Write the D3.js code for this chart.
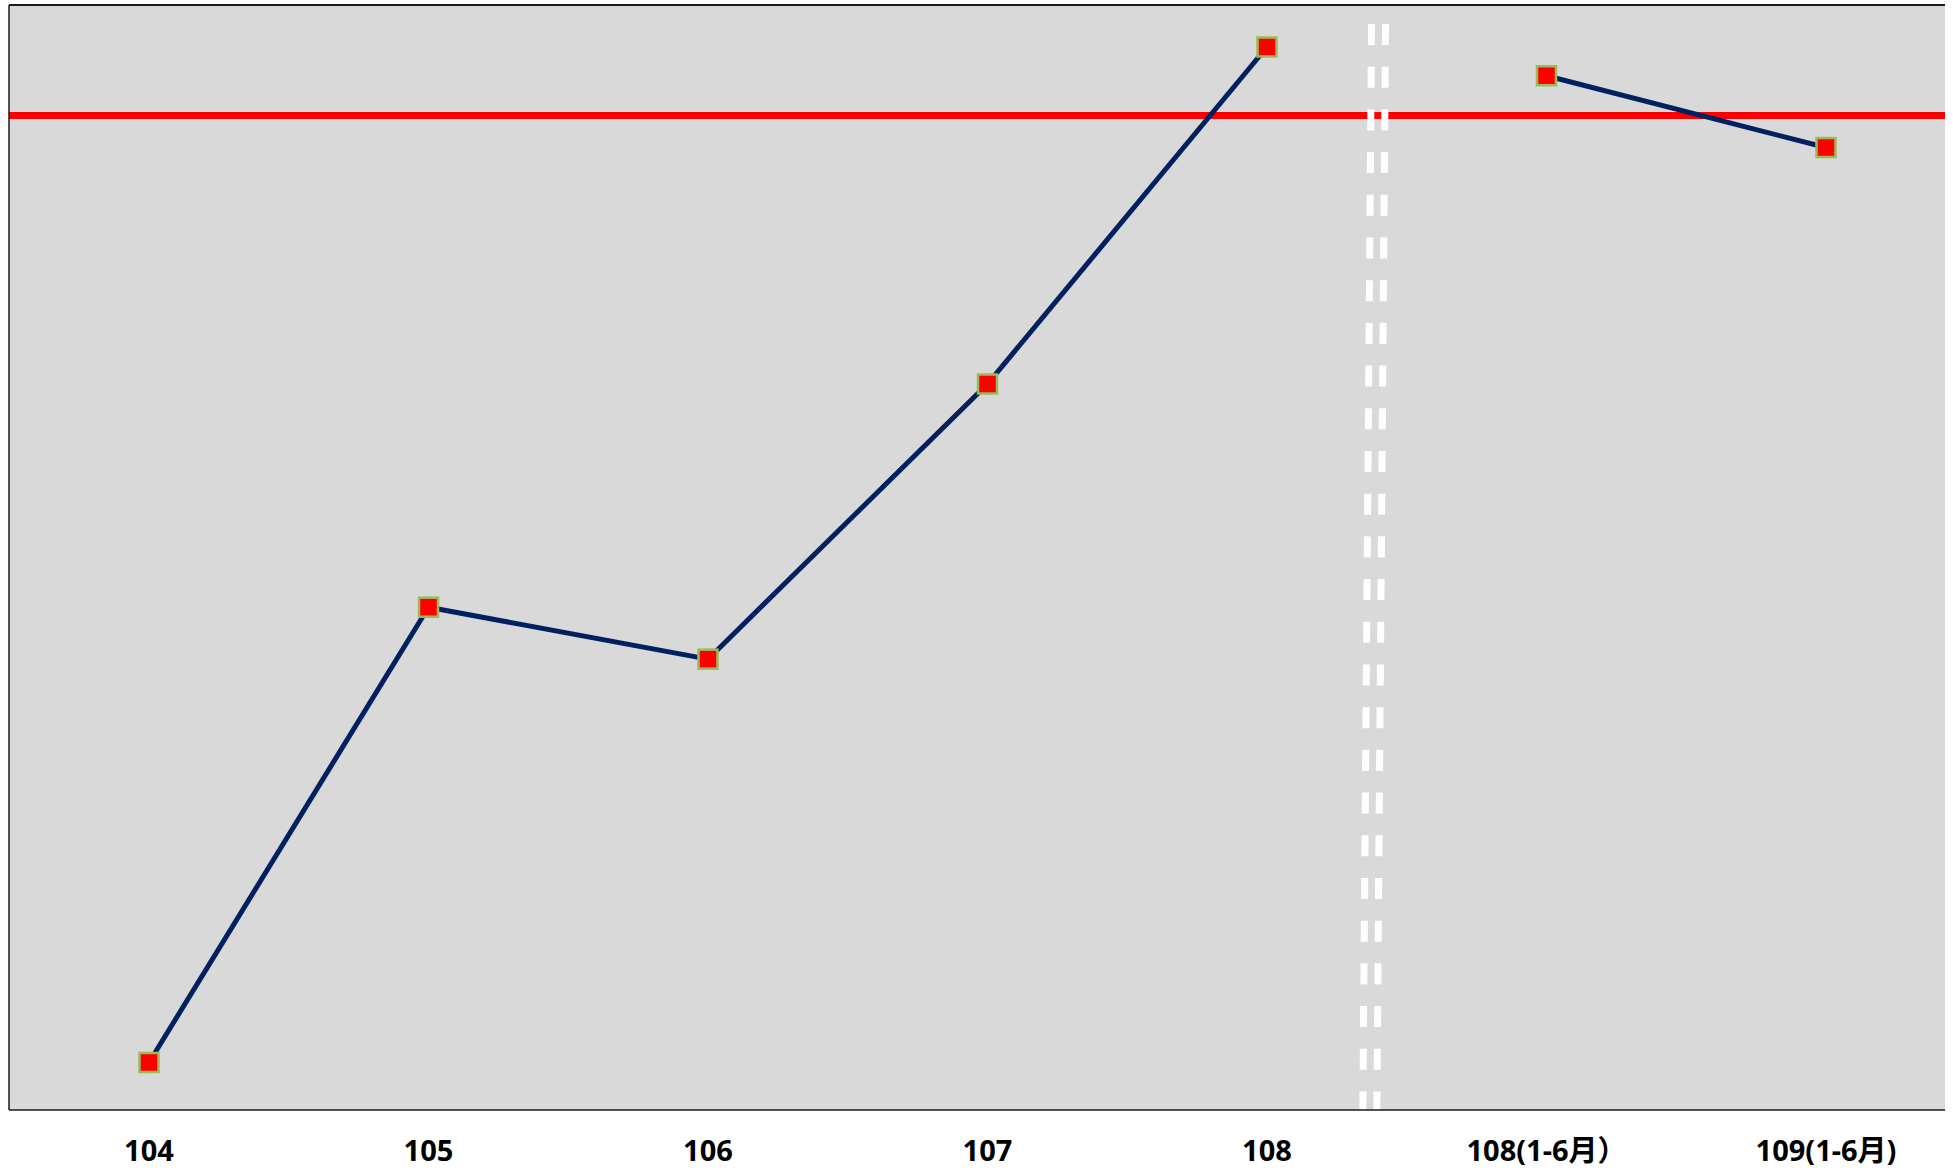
<!DOCTYPE html>
<html>
<head>
<meta charset="utf-8">
<script src="https://cdn.jsdelivr.net/npm/d3@7"></script>
<style>
  body { margin: 0; background: #fff; }
  svg { display: block; }
</style>
</head>
<body>
<svg></svg>
<script>
const width = 1953, height = 1172;

// Data
const categories = ["104", "105", "106", "107", "108", "108(1-6月）", "109(1-6月)"];
const yearCats = ["104", "105", "106", "107", "108"];
const yearValues = [4.3, 45.5, 40.8, 65.7, 96.2];
const halfCats = ["108(1-6月）", "109(1-6月)"];
const halfValues = [93.6, 87.1];
const targetValue = 90;

const plot = { left: 9, right: 1945, top: 5, bottom: 1110 };

const svg = d3.select("svg").attr("width", width).attr("height", height);

const x = d3.scalePoint().domain(categories).range([149, 1826]);
const y = d3.scaleLinear().domain([0, 100]).range([plot.bottom, plot.top]);
const step = x.step();

// Plot background
svg.append("rect")
    .attr("x", plot.left).attr("y", plot.top)
    .attr("width", plot.right - plot.left)
    .attr("height", plot.bottom - plot.top)
    .attr("fill", "#d9d9d9");

// Target line
svg.append("line")
    .attr("x1", plot.left).attr("x2", plot.right)
    .attr("y1", y(targetValue)).attr("y2", y(targetValue))
    .attr("stroke", "#ff0000")
    .attr("stroke-width", 7);

// Break marker: two white dashed lines between 108 and the half-year data
[0, 14].forEach(off => {
    svg.append("line")
        .attr("x1", x("108") + step * 0.374 + off).attr("y1", 24)
        .attr("x2", x("108") + step * 0.343 + off).attr("y2", plot.bottom)
        .attr("stroke", "#fff")
        .attr("stroke-width", 7)
        .attr("stroke-dasharray", "21 21.7");
});

// Axes frame (left, top, bottom; no right border)
const frame = svg.append("g").attr("stroke", "#1a1a1a").attr("fill", "none");
frame.append("line").attr("x1", plot.left).attr("x2", plot.right)
    .attr("y1", plot.top).attr("y2", plot.top).attr("stroke-width", 2);
frame.append("line").attr("x1", plot.left).attr("x2", plot.left)
    .attr("y1", plot.top).attr("y2", plot.bottom).attr("stroke-width", 1.5);
frame.append("line").attr("x1", plot.left).attr("x2", plot.right)
    .attr("y1", plot.bottom).attr("y2", plot.bottom).attr("stroke-width", 1.5);

// Lines
const line = d3.line().x(d => x(d[0])).y(d => y(d[1]));
const series = [d3.zip(yearCats, yearValues), d3.zip(halfCats, halfValues)];

svg.selectAll("path.series")
    .data(series)
    .enter().append("path")
    .attr("class", "series")
    .attr("d", line)
    .attr("fill", "none")
    .attr("stroke", "#002060")
    .attr("stroke-width", 5)
    .attr("stroke-linejoin", "round");

// Markers
svg.selectAll("rect.marker")
    .data(series.flat())
    .enter().append("rect")
    .attr("class", "marker")
    .attr("x", d => x(d[0]) - 9.5)
    .attr("y", d => y(d[1]) - 9.5)
    .attr("width", 19).attr("height", 19)
    .attr("fill", "#ff0000")
    .attr("stroke", "#9bbb59")
    .attr("stroke-width", 2.5);

// Category labels
svg.selectAll("text.cat")
    .data(categories)
    .enter().append("text")
    .attr("class", "cat")
    .attr("x", d => x(d))
    .attr("y", 1161)
    .attr("text-anchor", "middle")
    .attr("font-family", "'Noto Sans', 'Noto Sans CJK TC', sans-serif")
    .attr("font-weight", "bold")
    .attr("font-size", "29px")
    .attr("fill", "#000")
    .text(d => d);
</script>
</body>
</html>
